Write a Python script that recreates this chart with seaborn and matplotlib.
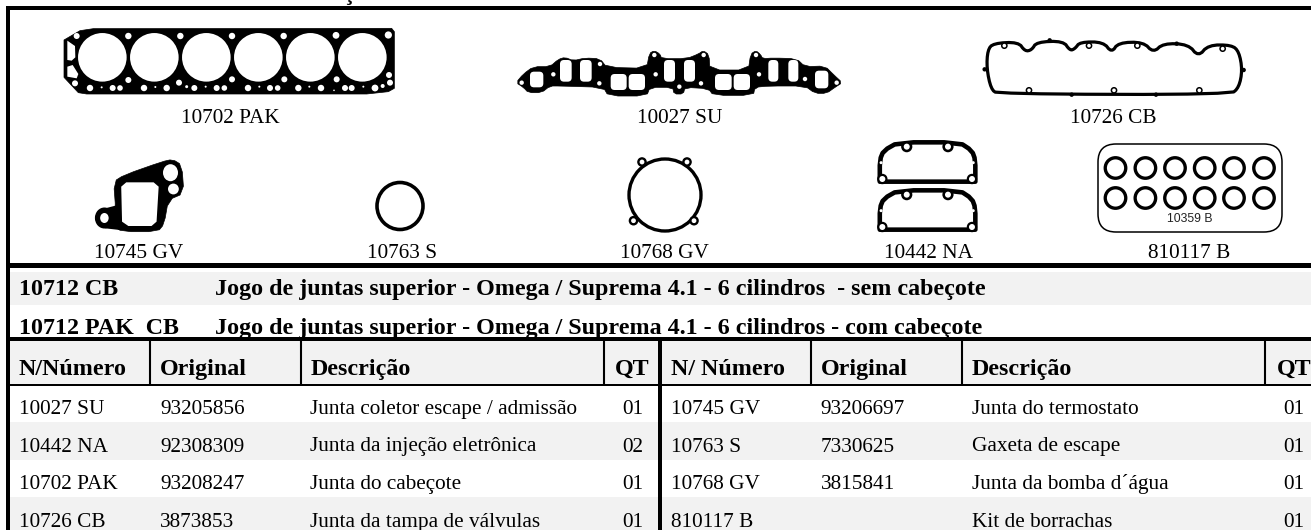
"""plot.py - gasket kit catalogue sheet (drawings on top, parts table below)."""
import matplotlib
matplotlib.use("Agg")
import matplotlib.pyplot as plt
from matplotlib.colors import ListedColormap
from matplotlib.patches import Circle, Ellipse, FancyBboxPatch, Polygon
import numpy as np
import seaborn as sns

# ---------------------------------------------------------------------------
# Table content
# ---------------------------------------------------------------------------
HEADING = "APLICAÇÃO - CHEVROLET OMEGA / SUPREMA 4.1 - 6 CILINDROS"

KIT_CODES = ["10712 CB", "10712 PAK  CB"]
KIT_NAMES = [
    "Jogo de juntas superior - Omega / Suprema 4.1 - 6 cilindros  - sem cabeçote",
    "Jogo de juntas superior - Omega / Suprema 4.1 - 6 cilindros - com cabeçote",
]

HEAD_LEFT = ["N/Número", "Original", "Descrição", "QT"]
HEAD_RIGHT = ["N/ Número", "Original", "Descrição", "QT"]

NUM_LEFT = ["10027 SU", "10442 NA", "10702 PAK", "10726 CB"]
ORIG_LEFT = ["93205856", "92308309", "93208247", "3873853"]
DESC_LEFT = ["Junta coletor escape / admissão", "Junta da injeção eletrônica",
             "Junta do cabeçote", "Junta da tampa de válvulas"]
QT_LEFT = ["01", "02", "01", "01"]

NUM_RIGHT = ["10745 GV", "10763 S", "10768 GV", "810117 B"]
ORIG_RIGHT = ["93206697", "7330625", "3815841", ""]
DESC_RIGHT = ["Junta do termostato", "Gaxeta de escape",
              "Junta da bomba d´água", "Kit de borrachas"]
QT_RIGHT = ["01", "01", "01", "01"]

PART_LABELS = ["10702 PAK", "10027 SU", "10726 CB",
               "10745 GV", "10763 S", "10768 GV", "10442 NA", "810117 B"]
PART_LABEL_X = [230, 680, 1113, 139, 402, 664, 928, 1189]
PART_LABEL_Y = [123, 123, 123, 258.5, 258.5, 258.5, 258.5, 258.5]

STRIPES = [[0], [1], [0], [1]]

GREY = "#f2f2f2"
SERIF = "Liberation Serif"


def smooth(points, rounds=2):
    """Corner cutting, so the traced outlines do not look faceted."""
    pts = np.asarray(points, dtype=float)
    for _ in range(rounds):
        nxt = np.roll(pts, -1, axis=0)
        pts = np.column_stack([0.75 * pts + 0.25 * nxt, 0.25 * pts + 0.75 * nxt]).reshape(-1, 2)
    return pts


def hole(ax, x, y, r, fc="white", **kw):
    ax.add_patch(Circle((x, y), r, fc=fc, ec="none", **kw))


def slot(ax, x0, y0, x1, y1, rad=4):
    ax.add_patch(FancyBboxPatch((x0 + rad, y0 + rad), x1 - x0 - 2 * rad, y1 - y0 - 2 * rad,
                                boxstyle=f"round,pad={rad},rounding_size={rad}",
                                fc="white", ec="none"))


# ---------------------------------------------------------------------------
# Gasket drawings (traced in image pixels)
# ---------------------------------------------------------------------------

def draw_head_gasket(ax):
    tx = lambda zx: 50 + zx / 3
    ty = lambda zy: 20 + zy / 3
    outline = [(42, 60), (90, 32), (130, 26), (1025, 25), (1033, 35), (1033, 205),
               (1015, 215), (950, 222), (110, 222), (85, 218), (42, 172)]
    ax.add_patch(Polygon([(tx(a), ty(b)) for a, b in outline], fc="black", ec="black", lw=0.5))
    for zx in [157, 313, 469, 625, 781, 937]:
        hole(ax, tx(zx), ty(112), 24.3)
    for a, b, r in [(80, 48, 3), (235, 48, 3.2), (391, 48, 3.2), (546, 48, 3.2), (701, 48, 3.2),
                    (858, 46, 3.4), (1015, 45, 3.6), (235, 180, 3), (387, 188, 3), (546, 178, 3),
                    (703, 178, 3), (860, 178, 3), (1017, 165, 3), (1020, 188, 3),
                    (75, 190, 3), (120, 204, 3.2), (155, 202, 1), (188, 204, 3), (210, 204, 2.8),
                    (282, 204, 3.2), (316, 201, 1), (350, 204, 3.2), (410, 200, 1.5),
                    (433, 204, 3), (467, 200, 1), (500, 204, 3), (523, 204, 2.8),
                    (594, 204, 3.2), (628, 200, 1), (660, 204, 3), (683, 204, 2.8),
                    (745, 204, 3.2), (778, 200, 1), (813, 204, 3.2), (852, 211, 0.8),
                    (885, 204, 3), (905, 204, 3), (940, 200, 1), (975, 204, 3.4), (998, 198, 2)]:
        hole(ax, tx(a), ty(b), r)
    for win in ([(52, 62), (75, 78), (76, 112), (65, 122), (52, 120)],
                [(52, 140), (68, 135), (85, 162), (80, 175), (52, 170)]):
        ax.add_patch(Polygon([(tx(a), ty(b)) for a, b in win], fc="white", ec="none"))


def draw_manifold_gasket(ax):
    tx = lambda zx: 510 + zx / 3
    ty = lambda zy: 50 + zy / 3
    outline = [(18, 98), (40, 72), (70, 50), (120, 50), (145, 28), (165, 22), (190, 32),
               (225, 24), (270, 26), (290, 52), (410, 55), (418, 10), (433, 2), (450, 12),
               (455, 26), (530, 26), (565, 12), (580, 2), (597, 14), (600, 60), (715, 60),
               (722, 12), (738, 2), (752, 14), (758, 26), (790, 24), (860, 26), (885, 50),
               (945, 48), (972, 75), (997, 98), (975, 112), (950, 130), (915, 130),
               (885, 108), (775, 108), (735, 112), (730, 136), (610, 136), (595, 116),
               (525, 112), (520, 132), (492, 132), (488, 112), (420, 112), (410, 138),
               (295, 138), (280, 112), (150, 108), (120, 108), (95, 128), (55, 128), (40, 112)]
    pts = smooth([(tx(a), ty(b)) for a, b in outline], rounds=1)
    ax.add_patch(Polygon(pts, fc="black", ec="black", lw=0.5))
    for a0, b0, a1, b1 in [(60, 65, 100, 112), (150, 30, 185, 95), (210, 30, 245, 95),
                           (302, 72, 350, 120), (356, 72, 405, 120), (462, 30, 495, 95),
                           (522, 30, 555, 95), (615, 72, 665, 120), (671, 72, 720, 120),
                           (775, 30, 805, 95), (835, 30, 865, 95), (915, 62, 955, 115)]:
        slot(ax, tx(a0), ty(b0), tx(a1), ty(b1), rad=4)
    for a, b in [(35, 98), (130, 73), (270, 42), (268, 100), (433, 15), (437, 73), (508, 110),
                 (573, 100), (581, 15), (738, 15), (747, 73), (885, 87), (980, 98)]:
        hole(ax, tx(a), ty(b), 2.2)


def draw_cover_gasket(ax):
    tx = lambda zx: 975 + zx / 3
    ty = lambda zy: 30 + zy / 3
    outline = [(35, 115), (38, 60), (55, 40), (130, 36), (150, 64), (170, 60), (185, 36), (265, 33),
               (285, 62), (300, 56), (315, 36), (385, 36), (410, 68), (430, 38), (505, 36),
               (535, 68), (565, 40), (640, 43), (670, 80), (700, 45), (770, 45), (792, 65),
               (802, 120), (792, 172), (767, 194), (68, 192), (48, 177)]
    pts = smooth([(tx(a), ty(b)) for a, b in outline], rounds=2)
    ax.add_patch(Polygon(pts, fc="white", ec="black", lw=2.3, joinstyle="round"))
    for a, b in [(88, 47), (342, 47), (487, 47), (743, 56), (162, 181), (417, 181), (673, 181)]:
        ax.add_patch(Circle((tx(a), ty(b)), 2.6, fc="white", ec="black", lw=1.1))
    for a, b in [(224, 31), (605, 41), (29, 118), (806, 120), (290, 194), (543, 194)]:
        hole(ax, tx(a), ty(b), 2.2, fc="black")


def draw_thermostat_gasket(ax):
    tx = lambda zx: zx / 2.376
    ty = lambda zy: zy / 3
    outer = [(275, 630), (270, 545), (295, 525), (385, 485), (410, 478), (432, 495), (437, 580),
             (400, 600), (390, 672), (375, 695), (290, 695), (270, 678)]
    neck = [(250, 625), (280, 615), (285, 690), (250, 685)]
    ax.add_patch(Ellipse((104.4, 218), 19, 21, fc="black", ec="none"))
    ax.add_patch(Polygon([(tx(a), ty(b)) for a, b in neck], fc="black", ec="none"))
    ax.add_patch(Polygon(smooth([(tx(a), ty(b)) for a, b in outer], 1), fc="black", ec="black", lw=0.5))
    inner = [(288, 560), (300, 547), (365, 547), (377, 560), (372, 665), (360, 678), (305, 678), (290, 665)]
    ax.add_patch(Polygon([(tx(a), ty(b)) for a, b in inner], fc="white", ec="none"))
    ax.add_patch(Ellipse((104.4, 218), 8.5, 10, fc="white", ec="none"))
    ax.add_patch(Ellipse((170.5, 172.7), 15, 17, fc="white", ec="none"))
    hole(ax, 173.4, 189, 5.4)


def draw_pump_gasket(ax):
    ax.add_patch(Circle((665, 195), 36, fc="white", ec="black", lw=2.4))
    for x, y in [(642, 162), (687, 162), (633.5, 220.7), (694, 220.7)]:
        hole(ax, x, y, 4.8, fc="black")
        hole(ax, x, y, 2.4)


def draw_injection_gasket(ax, dy):
    tx = lambda zx: 650 + zx / 2.376
    ty = lambda zy: zy / 3 + dy
    outer = [(546, 545), (546, 545), (546, 480), (555, 452), (590, 427), (735, 427),
             (765, 452), (773, 480), (773, 545), (773, 545)]
    ax.add_patch(Polygon(smooth([(tx(a), ty(b)) for a, b in outer], 1), fc="white", ec="black",
                         lw=3.3, joinstyle="round"))
    for a, b, r in [(610, 440, 5.6), (708, 440, 5.6), (552, 537, 5.2), (765, 537, 5.2)]:
        hole(ax, tx(a), ty(b), r, fc="black")
        hole(ax, tx(a), ty(b), 3.0)
    for a, b in [(549, 488), (768, 488)]:
        hole(ax, tx(a), ty(b), 1.5)


def draw_seal_kit(ax):
    ax.add_patch(FancyBboxPatch((1116, 162), 148, 52, boxstyle="round,pad=18,rounding_size=18",
                                fc="white", ec="black", lw=1.1))
    for y in [168, 198]:
        for x in [1115.5, 1145.4, 1175, 1204.7, 1234, 1264]:
            ax.add_patch(Ellipse((x, y), 20.5, 20.5, fc="white", ec="black", lw=2.4))
    ax.text(1190, 219, "10359 B", family="Liberation Sans", fontsize=8.8,
            color="#222222", ha="center", va="center")


def draw_text_row(ax, y, values, xs, **kw):
    for val, x in zip(values, xs):
        ax.text(x, y, val, family=SERIF, color="black", va="baseline", ha="left", **kw)


# ---------------------------------------------------------------------------
# Main
# ---------------------------------------------------------------------------

def main():
    sns.set_theme(style="white")
    fig = plt.figure(figsize=(13.11, 5.30), dpi=100, facecolor="white")
    ax = fig.add_axes([0, 0, 1, 1])
    ax.set_xlim(0, 1311)
    ax.set_ylim(530, 0)
    ax.axis("off")

    # striped table body: 4 rows of about 37.6 px starting at y=384.5
    body = fig.add_axes([10 / 1311, 1 - (384.5 + 4 * 37.6) / 530, 1, 4 * 37.6 / 530], zorder=-1)
    sns.heatmap(STRIPES, ax=body, cmap=ListedColormap(["white", GREY]), cbar=False,
                xticklabels=False, yticklabels=False, vmin=0, vmax=1)

    # grey bands
    ax.axhspan(272, 305, xmin=10 / 1311, color=GREY, lw=0)
    ax.axhspan(341, 384, xmin=10 / 1311, color=GREY, lw=0)

    # only the lowest pixels of this line are on the sheet, the words are a best guess
    ax.text(247, 0.2, HEADING, family=SERIF, fontsize=17.5, fontweight="bold",
            color="black", va="baseline", ha="left")

    # rules
    rule_start = 6 / 1311
    ax.axhspan(6, 9.5, xmin=rule_start, color="black", lw=0)
    ax.axhspan(263, 267.5, xmin=rule_start, color="black", lw=0)
    ax.axhspan(337, 341, xmin=rule_start, color="black", lw=0)
    ax.axhspan(383.5, 385.7, xmin=rule_start, color="black", lw=0)
    ax.axvspan(6, 10, ymin=0, ymax=1 - 6 / 530, color="black", lw=0)
    ax.axvspan(657.5, 661.5, ymin=0, ymax=1 - 341 / 530, color="black", lw=0)
    for x in [150, 301, 603.5, 811, 962, 1264.5]:
        ax.vlines(x, 341, 384, color="black", lw=1.5)

    # drawings
    draw_head_gasket(ax)
    draw_manifold_gasket(ax)
    draw_cover_gasket(ax)
    draw_thermostat_gasket(ax)
    ax.add_patch(Ellipse((400, 206), 46, 47, fc="white", ec="black", lw=2.6))
    draw_pump_gasket(ax)
    draw_injection_gasket(ax, 0)
    draw_injection_gasket(ax, 48)
    draw_seal_kit(ax)

    for lab, x, y in zip(PART_LABELS, PART_LABEL_X, PART_LABEL_Y):
        ax.text(x, y, lab, family=SERIF, fontsize=15.3, color="black", ha="center", va="baseline")

    # kit rows
    for y, code, name in zip([295, 334], KIT_CODES, KIT_NAMES):
        draw_text_row(ax, y, [code, name], [19, 215], fontsize=17.3, fontweight="bold")

    # table
    draw_text_row(ax, 375, HEAD_LEFT, [19, 160, 310.5, 614.5], fontsize=17.3, fontweight="bold")
    draw_text_row(ax, 375, HEAD_RIGHT, [671, 820.5, 972, 1277], fontsize=17.3, fontweight="bold")

    for i, y in enumerate([414, 451.5, 489, 527]):
        draw_text_row(ax, y, [NUM_LEFT[i], ORIG_LEFT[i], DESC_LEFT[i], QT_LEFT[i]],
                      [19, 160, 310.5, 622], fontsize=15.3)
        draw_text_row(ax, y, [NUM_RIGHT[i], ORIG_RIGHT[i], DESC_RIGHT[i], QT_RIGHT[i]],
                      [671, 820.5, 972, 1283], fontsize=15.3)

    fig.savefig("out.png", dpi=100)
    plt.close(fig)


if __name__ == "__main__":
    main()
